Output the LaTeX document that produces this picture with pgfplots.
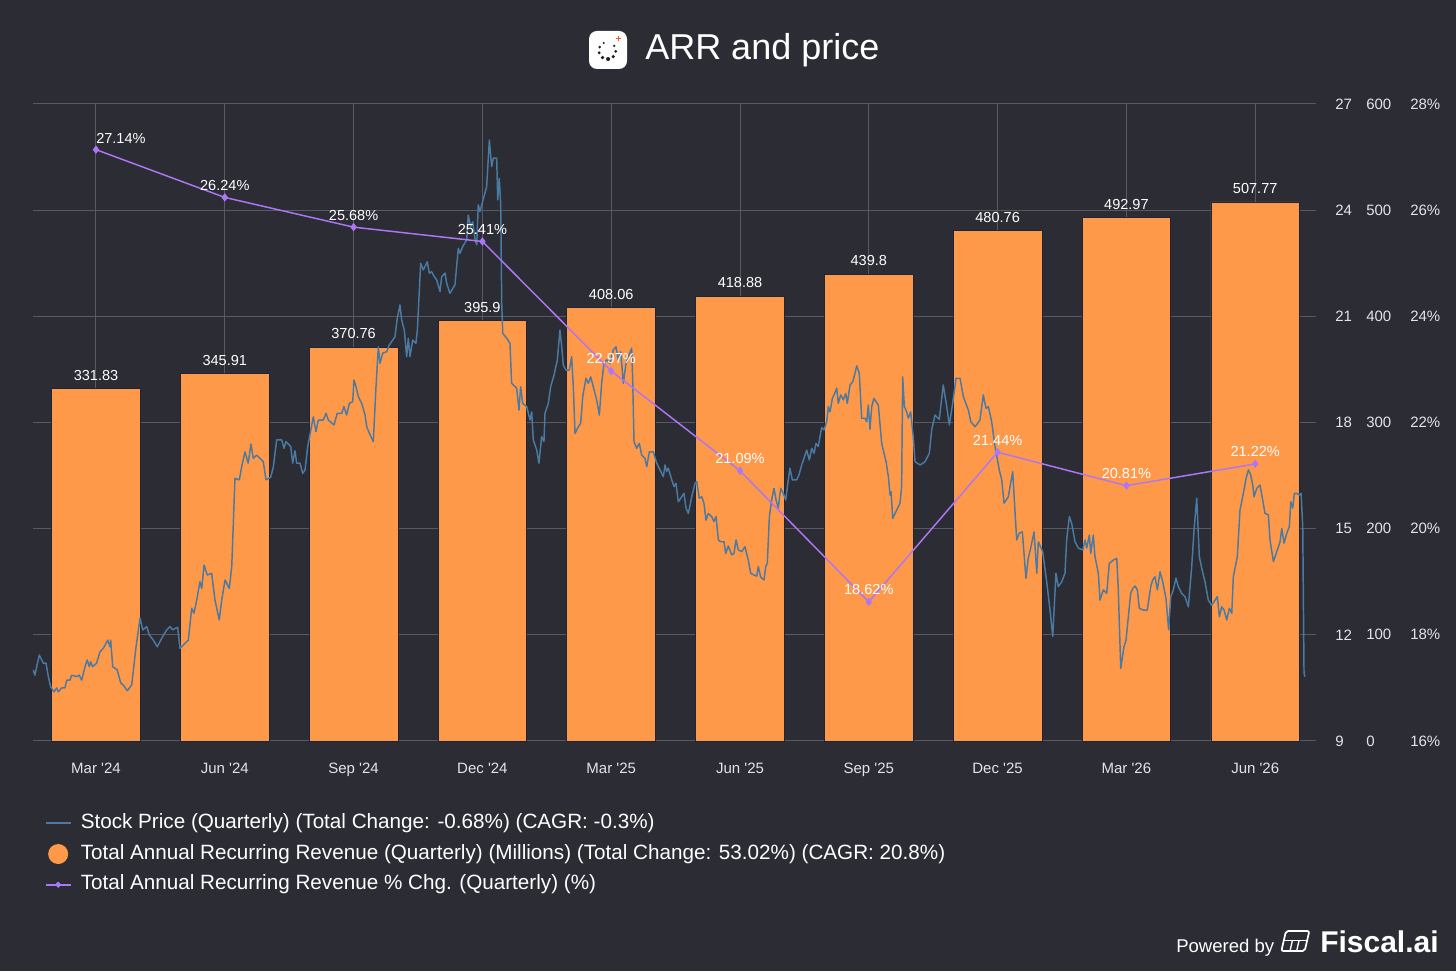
\documentclass[border=0pt]{standalone}
\usepackage{pgfplots}
\pgfplotsset{compat=1.18}
\usepackage{pgfplotstable}
\usepackage{fontspec}
\setmainfont{Liberation Sans}
\definecolor{bg}{RGB}{43,44,52}
\definecolor{gridc}{RGB}{88,89,98}
\definecolor{barc}{RGB}{255,153,74}
\definecolor{baredge}{RGB}{30,36,58}
\definecolor{pricec}{RGB}{74,122,162}
\definecolor{pctc}{RGB}{172,118,246}
\definecolor{tickc}{RGB}{228,228,232}
\definecolor{icondot}{RGB}{28,29,36}
\definecolor{iconorange}{RGB}{255,90,30}

\pgfplotstableread{
x y l
0 331.83 331.83
1 345.91 345.91
2 370.76 370.76
3 395.9 395.9
4 408.06 408.06
5 418.88 418.88
6 439.8 439.8
7 480.76 480.76
8 492.97 492.97
9 507.77 507.77
}\arrtable

\pgfplotstableread{
x y l
0 27.14 27.14
1 26.24 26.24
2 25.68 25.68
3 25.41 25.41
4 22.97 22.97
5 21.09 21.09
6 18.62 18.62
7 21.44 21.44
8 20.81 20.81
9 21.22 21.22
}\pcttable

\pgfplotstableread{
x y
-0.487 11.01
-0.474 10.86
-0.460 11.10
-0.440 11.43
-0.409 11.20
-0.388 11.20
-0.370 10.82
-0.352 10.53
-0.326 10.39
-0.305 10.50
-0.293 10.39
-0.266 10.50
-0.241 10.50
-0.227 10.72
-0.202 10.72
-0.189 10.86
-0.150 10.82
-0.130 10.86
-0.111 10.72
-0.085 11.10
-0.068 11.29
-0.052 11.10
-0.041 11.24
-0.026 11.10
0.005 11.20
0.031 11.52
0.057 11.62
0.091 11.85
0.109 11.66
0.114 11.85
0.130 11.10
0.165 11.01
0.192 10.64
0.212 10.58
0.243 10.42
0.277 10.58
0.311 11.66
0.342 12.47
0.363 12.14
0.394 12.23
0.414 12.00
0.445 11.85
0.476 11.66
0.510 11.90
0.549 12.14
0.575 12.23
0.596 12.14
0.613 12.18
0.634 12.21
0.652 11.62
0.717 11.85
0.743 12.75
0.761 12.61
0.782 12.98
0.807 13.50
0.821 13.31
0.839 13.97
0.864 13.69
0.898 13.74
0.924 12.98
0.957 12.42
0.976 12.98
1.002 13.55
1.035 13.31
1.054 13.93
1.079 16.42
1.113 16.38
1.131 16.75
1.157 17.17
1.182 16.85
1.203 17.39
1.221 16.99
1.248 17.08
1.299 16.89
1.320 16.38
1.356 16.45
1.377 16.75
1.403 17.51
1.442 17.51
1.460 17.27
1.475 17.46
1.512 17.32
1.527 16.85
1.545 17.20
1.558 16.85
1.584 16.85
1.605 16.56
1.623 16.66
1.644 17.32
1.687 18.16
1.708 17.74
1.726 18.07
1.765 18.07
1.786 18.26
1.804 18.07
1.848 17.93
1.873 18.26
1.908 18.26
1.925 18.45
1.946 18.21
1.967 18.54
1.993 18.59
2.003 19.20
2.019 19.01
2.037 18.73
2.063 18.54
2.089 18.21
2.102 17.88
2.122 17.70
2.153 17.46
2.174 19.01
2.192 20.14
2.205 19.67
2.226 19.96
2.257 20.00
2.277 20.19
2.321 20.42
2.339 20.94
2.360 21.32
2.373 20.90
2.394 20.61
2.412 19.86
2.425 20.38
2.438 19.86
2.459 20.33
2.484 20.24
2.495 20.61
2.521 22.50
2.541 22.31
2.572 22.54
2.588 22.22
2.606 22.26
2.627 22.12
2.645 22.03
2.671 21.70
2.684 22.12
2.710 22.22
2.723 21.93
2.748 21.65
2.787 21.89
2.813 22.92
2.826 22.78
2.847 22.97
2.878 23.16
2.890 23.86
2.909 23.53
2.925 23.67
2.943 23.16
2.956 23.02
2.968 24.15
2.981 23.96
3.012 24.38
3.033 24.66
3.054 25.98
3.072 25.23
3.085 25.47
3.111 25.47
3.119 24.29
3.131 24.90
3.142 24.19
3.150 21.37
3.158 20.52
3.189 20.38
3.214 20.24
3.227 19.11
3.266 18.97
3.284 18.35
3.297 19.01
3.313 18.54
3.344 18.45
3.370 18.07
3.383 18.30
3.395 17.51
3.422 17.22
3.439 16.85
3.460 17.60
3.478 17.46
3.486 18.26
3.512 18.54
3.530 19.01
3.556 19.34
3.582 19.77
3.602 20.61
3.616 20.14
3.628 19.62
3.649 19.48
3.675 19.48
3.693 19.86
3.706 19.01
3.719 17.69
3.745 17.88
3.763 17.98
3.779 18.73
3.804 19.25
3.822 19.11
3.841 19.29
3.861 19.01
3.887 18.64
3.908 18.21
3.926 19.11
3.944 19.67
3.965 19.77
3.991 19.67
4.016 20.05
4.037 20.14
4.055 19.77
4.074 20.00
4.094 19.11
4.115 19.67
4.133 19.86
4.159 20.10
4.167 19.20
4.177 17.46
4.198 17.27
4.218 17.41
4.237 17.08
4.262 16.99
4.276 16.75
4.296 17.17
4.327 17.17
4.353 16.85
4.379 16.66
4.405 16.47
4.418 16.80
4.431 16.61
4.443 16.71
4.470 16.38
4.488 16.19
4.503 16.28
4.521 15.76
4.547 15.90
4.565 16.00
4.581 15.58
4.599 15.43
4.625 15.90
4.651 16.28
4.664 16.33
4.684 15.86
4.703 15.90
4.720 15.72
4.736 15.24
4.754 15.43
4.780 15.34
4.798 15.20
4.814 15.34
4.832 14.68
4.850 14.63
4.876 14.63
4.889 14.30
4.909 14.51
4.936 14.26
4.953 14.30
4.969 14.68
4.987 14.40
5.013 14.35
5.039 14.49
5.064 14.11
5.083 13.74
5.109 13.69
5.130 13.66
5.142 13.93
5.161 13.63
5.186 13.55
5.200 13.93
5.212 14.02
5.228 15.34
5.246 15.81
5.264 16.14
5.280 15.81
5.297 15.58
5.316 16.14
5.336 16.00
5.355 15.81
5.375 16.38
5.388 16.71
5.406 16.38
5.440 16.38
5.458 16.52
5.479 16.80
5.497 16.99
5.518 17.22
5.538 16.94
5.557 17.27
5.575 17.13
5.590 17.41
5.608 17.32
5.621 17.60
5.634 17.86
5.652 17.79
5.673 18.02
5.686 18.45
5.699 18.30
5.717 18.68
5.730 18.78
5.751 18.97
5.763 18.54
5.782 18.78
5.802 18.64
5.821 18.82
5.833 18.54
5.854 19.06
5.875 19.15
5.893 19.39
5.906 19.60
5.926 19.39
5.945 18.12
5.970 18.12
5.984 18.02
5.996 18.49
6.009 17.81
6.023 18.45
6.040 18.68
6.074 18.49
6.100 17.41
6.134 16.89
6.152 16.47
6.165 15.95
6.173 16.04
6.186 15.29
6.217 15.53
6.242 15.72
6.255 16.19
6.263 19.29
6.276 18.45
6.294 18.30
6.307 18.12
6.325 18.30
6.345 17.60
6.359 16.89
6.398 16.80
6.436 16.89
6.470 17.13
6.488 17.79
6.514 18.21
6.547 18.09
6.578 19.06
6.605 18.45
6.625 17.93
6.651 18.54
6.677 19.25
6.708 19.25
6.734 18.73
6.773 18.35
6.792 18.02
6.825 17.88
6.863 18.07
6.889 18.78
6.910 18.40
6.928 18.45
6.954 18.02
6.980 17.32
7.013 16.66
7.032 16.38
7.050 15.72
7.083 15.90
7.117 16.61
7.148 14.68
7.168 14.87
7.192 14.91
7.220 13.60
7.238 14.16
7.257 14.45
7.283 14.91
7.304 13.74
7.316 14.63
7.350 14.35
7.381 13.50
7.407 12.70
7.428 11.95
7.453 13.74
7.471 13.36
7.498 13.50
7.523 13.74
7.536 14.68
7.557 15.34
7.575 15.15
7.601 14.63
7.627 14.45
7.661 14.40
7.679 14.68
7.692 14.45
7.712 14.82
7.723 14.30
7.743 14.82
7.756 14.21
7.782 13.74
7.795 12.98
7.821 13.27
7.847 13.17
7.867 14.02
7.898 14.11
7.925 14.16
7.937 13.27
7.956 11.05
7.981 11.66
7.997 11.85
8.015 12.51
8.033 13.17
8.049 13.31
8.067 13.38
8.085 13.27
8.100 12.75
8.131 12.70
8.162 12.70
8.189 13.36
8.204 13.55
8.222 13.64
8.240 13.27
8.261 13.78
8.282 13.50
8.307 13.03
8.328 12.14
8.344 13.08
8.364 13.27
8.385 13.60
8.403 13.36
8.429 13.17
8.455 13.08
8.481 12.79
8.507 13.93
8.525 14.96
8.546 15.86
8.566 14.21
8.585 13.88
8.610 13.50
8.636 12.98
8.662 12.84
8.688 12.98
8.706 13.08
8.722 12.51
8.740 12.79
8.758 12.70
8.779 12.42
8.799 12.75
8.818 12.61
8.830 13.64
8.861 14.21
8.882 15.53
8.908 16.00
8.929 16.42
8.947 16.66
8.965 16.52
8.981 16.23
8.991 15.90
9.012 16.14
9.037 16.23
9.058 15.81
9.076 15.43
9.102 15.39
9.115 14.68
9.141 14.07
9.167 14.35
9.193 14.63
9.206 15.01
9.224 14.59
9.245 14.87
9.265 15.06
9.276 15.76
9.291 15.58
9.304 16.00
9.322 16.00
9.343 15.95
9.356 16.00
9.369 15.06
9.379 10.91
9.387 10.82
}\pricetable

\pgfplotsset{
  base/.style={
    scale only axis, width=962.25pt, height=477.75pt,
    at={(24.75pt,172.5pt)}, anchor=south west,
    xmin=-0.489, xmax=9.472,
    axis line style={draw=none},
    tick style={draw=none},
    major tick length=0pt,
    /pgf/number format/assume math mode=true,
    ytick pos=right, yticklabel pos=right,
    tick label style={font=\fontsize{11.25}{13}\selectfont, text=tickc},
    clip=false,
  }
}

\begin{document}
\begin{tikzpicture}
\useasboundingbox (0,0) rectangle (1092pt,728.25pt);
\fill[bg] (0,0) rectangle (1092pt,728.25pt);

% Revenue axis with bars and grid
\begin{axis}[base,
  ymin=0, ymax=600, ytick={0,100,200,300,400,500,600},
  yticklabels={0,100,200,300,400,500,600},
  yticklabel style={anchor=west, inner sep=0pt, xshift=37.5pt},
  xtick={0,1,2,3,4,5,6,7,8,9},
  xticklabels={Mar \textquotesingle24, Jun \textquotesingle24, Sep \textquotesingle24, Dec \textquotesingle24, Mar \textquotesingle25, Jun \textquotesingle25, Sep \textquotesingle25, Dec \textquotesingle25, Mar \textquotesingle26, Jun \textquotesingle26},
  xticklabel style={anchor=base, inner sep=0pt, yshift=-24.75pt},
  grid=major, major grid style={gridc, line width=0.75pt},
]
\addplot[ybar, bar width=0.688, fill=barc, draw=baredge, line width=0.6pt,
  nodes near coords, point meta=explicit symbolic,
  every node near coord/.append style={font=\fontsize{10.9}{12}\selectfont, text=white, inner sep=0pt, anchor=south, yshift=6pt}]
  table[x=x, y=y, meta=l] {\arrtable};
\end{axis}

% Price axis
\begin{axis}[base,
  ymin=9, ymax=27, ytick={9,12,15,18,21,24,27},
  yticklabels={9,12,15,18,21,24,27},
  yticklabel style={anchor=west, inner sep=0pt, xshift=14.25pt},
  xtick=\empty,
]
\addplot[pricec, line width=1.1pt, no markers, line join=round] table[x=x, y=y] {\pricetable};
\end{axis}

% Percent axis
\begin{axis}[base,
  ymin=16, ymax=28, ytick={16,18,20,22,24,26,28},
  yticklabels={16\%,18\%,20\%,22\%,24\%,26\%,28\%},
  yticklabel style={anchor=west, inner sep=0pt, xshift=70.5pt},
  xtick=\empty,
  legend style={
    at={(axis description cs:0.0057,-0.109)}, anchor=north west,
    draw=none, fill=none, text=white,
    font=\fontsize{15.5}{18}\selectfont,
    row sep=8pt,
    nodes={inner sep=0pt, text height=11.1pt, text depth=3.6pt},
    /tikz/every odd column/.append style={column sep=6.75pt},
  },
  legend cell align=left,
]
\addplot[pctc, line width=1.1pt, mark=diamond*, mark size=2.3pt, forget plot] table[x=x, y=y] {\pcttable};
\addplot[draw=none, mark=none, forget plot,
  nodes near coords={\pgfplotspointmeta\%}, point meta=explicit symbolic,
  every node near coord/.append style={font=\fontsize{10.9}{12}\selectfont, text=white, inner sep=0pt, anchor=south west, yshift=4pt}]
  table[x=x, y=y, meta=l] {
x y l
0 27.14 27.14
};
\addplot[draw=none, mark=none, forget plot,
  nodes near coords={\pgfplotspointmeta\%}, point meta=explicit symbolic,
  every node near coord/.append style={font=\fontsize{10.9}{12}\selectfont, text=white, inner sep=0pt, anchor=south, yshift=5pt}]
  table[x=x, y=y, meta=l] {
x y l
1 26.24 26.24
2 25.68 25.68
3 25.41 25.41
4 22.97 22.97
5 21.09 21.09
6 18.62 18.62
7 21.44 21.44
8 20.81 20.81
9 21.22 21.22
};
\addlegendimage{draw=none, fill=none, legend image code/.code={\path[draw=none,fill=none] (0pt,-7.5pt) rectangle (19pt,7.5pt); \draw[draw=pricec, line width=1.4pt] (0pt,0pt) -- (19pt,0pt);}}
\addlegendentry{Stock Price (Quarterly) (Total Change: -0.68\%) (CAGR: -0.3\%)}
\addlegendimage{draw=none, fill=none, legend image code/.code={\path[draw=none,fill=none] (0pt,-7.5pt) rectangle (19pt,7.5pt); \fill[barc] (9.5pt,0pt) circle (7.5pt);}}
\addlegendentry{Total Annual Recurring Revenue (Quarterly) (Millions) (Total Change: 53.02\%) (CAGR: 20.8\%)}
\addlegendimage{draw=none, fill=none, legend image code/.code={\path[draw=none,fill=none] (0pt,-7.5pt) rectangle (19pt,7.5pt); \draw[draw=pctc, line width=1.3pt] (0pt,0pt) -- (19pt,0pt); \fill[pctc] (9.5pt,0pt) +(-2.4pt,0pt) -- +(0pt,2.4pt) -- +(2.4pt,0pt) -- +(0pt,-2.4pt) -- cycle;}}
\addlegendentry{Total Annual Recurring Revenue \% Chg. (Quarterly) (\%)}
\end{axis}

% Title with icon
\fill[white, rounded corners=6pt] (441.75pt,676.5pt) rectangle (470.25pt,705pt);
\foreach \a/\r in {115/0.85, 155/1.05, 195/1.2, 235/1.35, 275/1.5, 315/1.35, 355/1.15, 35/0.95}{
  \fill[icondot] (455.5pt,690.25pt) ++(\a:6.3pt) circle (\r pt);
}
\draw[iconorange, line width=0.9pt] (464pt,697.4pt) -- +(0pt,4.2pt) (461.9pt,699.5pt) -- +(4.2pt,0pt);
\node[anchor=base west, inner sep=0pt, text=white, font=\fontsize{27}{32}\selectfont] at (483.75pt,683.25pt) {ARR and price};

% Branding
\node[anchor=base west, inner sep=0pt, text=white, font=\fontsize{13.9}{16}\selectfont] at (882pt,14.25pt) {Powered by};
\begin{scope}[white, line width=1.3pt, rounded corners=1.5pt]
  \draw (961pt,15pt) -- (964.5pt,30pt) -- (982pt,30pt) -- (978.5pt,15pt) -- cycle;
  \draw[line width=1pt] (962.8pt,23pt) -- (980.3pt,23pt);
  \draw[line width=1pt] (967.5pt,15pt) -- (969.3pt,23pt);
  \draw[line width=1pt] (972.5pt,15pt) -- (974.3pt,23pt);
\end{scope}
\node[anchor=base west, inner sep=0pt, text=white, font=\fontsize{22.5}{26}\selectfont\bfseries] at (990pt,14.25pt) {Fiscal.ai};
\end{tikzpicture}
\end{document}
